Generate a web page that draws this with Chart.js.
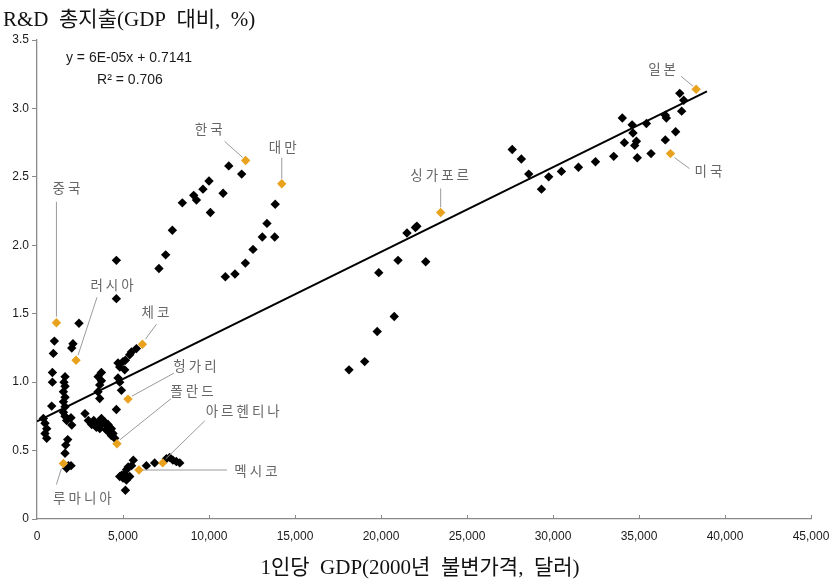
<!DOCTYPE html>
<html lang="ko">
<head>
<meta charset="utf-8">
<title>R&amp;D 총지출과 1인당 GDP</title>
<script src="https://cdn.jsdelivr.net/npm/chart.js@4/dist/chart.umd.min.js"></script>
<style>
  html, body { margin: 0; padding: 0; background: #ffffff; }
  #wrap { width: 834px; height: 582px; position: relative; }
</style>
</head>
<body>
<div id="wrap"><canvas id="chart" width="834" height="582"></canvas></div>
<script>
// Country-year observations: GDP per capita (2000 constant USD) and R&D spending (% of GDP)
const otherGdp = [
  1010, 950, 2090, 2020, 895, 895, 1630, 1570, 1630, 1535, 1630, 855, 1535, 1630, 1535, 1630,
  1725, 1975, 2020, 370, 465, 565, 465, 565, 1785, 1670, 1630, 1825, 1980, 1725, 2440,
  2790, 2985, 3180, 3300, 3450, 3550, 3650, 3745, 3840, 3940, 4030, 4130, 4230, 4140, 4035,
  4325, 4420, 4320, 4520,
  5780, 5490, 5390, 5140, 5000, 4710, 4810, 5100, 3745, 3550, 3745, 3645, 3550, 3645,
  4710, 4810, 4910, 4615,
  5600, 5500, 5300, 5200, 5100, 4920, 4810, 5000, 5200, 5390, 5140, 6360, 6840, 7520,
  7710, 7900, 8100, 8300,
  11150, 11900, 10000, 9650, 9110, 9270, 8450, 10820, 10080, 7870, 7480, 7090, 4615, 4615,
  13850, 13370, 13100, 13820, 12560, 12115, 11510, 10950,
  21510, 22000, 22090, 20990, 22600, 19870, 20770, 19780, 19050, 18140,
  27630, 28160, 28590, 29330, 29750, 30490, 31480, 32470, 33530, 34030, 34150, 34600,
  34650, 34850, 34750, 35430, 34900, 35700, 36530, 36590, 36530, 37130, 37370, 37600, 37480
];
const otherRd = [
  1.30, 1.21, 1.28, 1.25, 1.07, 1.00, 1.04, 1.00, 0.97, 0.93, 0.89, 0.825, 0.856, 0.82, 0.78, 0.75,
  0.72, 0.74, 0.686, 0.735, 0.70, 0.66, 0.625, 0.59, 0.58, 0.54, 0.48, 0.39, 0.39, 0.37, 1.43,
  0.77, 0.72, 0.69, 0.72, 0.67, 0.70, 0.66, 0.735, 0.70, 0.71, 0.685, 0.69, 0.67, 0.64, 0.65,
  0.66, 0.625, 0.61, 0.59,
  1.245, 1.22, 1.20, 1.16, 1.15, 1.14, 1.11, 1.09, 1.07, 1.04, 1.01, 0.98, 0.93, 0.88,
  1.03, 1.00, 0.94, 0.80,
  0.43, 0.39, 0.38, 0.36, 0.33, 0.32, 0.31, 0.30, 0.285, 0.31, 0.21, 0.39, 0.41, 0.44,
  0.45, 0.43, 0.42, 0.41,
  2.58, 2.52, 2.47, 2.41, 2.365, 2.33, 2.31, 2.38, 2.24, 2.11, 1.93, 1.83, 1.89, 1.61,
  2.30, 2.16, 2.06, 2.06, 1.97, 1.87, 1.79, 1.77,
  2.09, 2.13, 2.14, 1.89, 1.88, 1.80, 1.48, 1.37, 1.15, 1.09,
  2.70, 2.63, 2.52, 2.41, 2.50, 2.54, 2.57, 2.61, 2.65, 2.93, 2.75, 2.88,
  2.82, 2.76, 2.73, 2.89, 2.64, 2.67, 2.95, 2.93, 2.77, 2.83, 3.11, 3.06, 2.98
];

// Latest observation of the named countries
const namedCountries = ['중국', '러시아', '체코', '헝가리', '폴란드', '아르헨티나', '멕시코', '루마니아',
                        '한국', '대만', '싱가포르', '일본', '미국'];
const namedGdp = [1130, 2270, 6130, 5290, 4650, 7310, 5930, 1535, 12130, 14230, 23470, 38320, 36830];
const namedRd  = [1.434, 1.16, 1.277, 0.876, 0.55, 0.41, 0.358, 0.405, 2.62, 2.45, 2.24, 3.14, 2.67];

// Linear fit across all observations
const trendSlope = 6.19e-5;
const trendIntercept = 0.7141;
const trendRSquared = 0.706;
const trendXRange = [0, 38950];

// Axis ticks
const xTickValues = [0, 5000, 10000, 15000, 20000, 25000, 30000, 35000, 40000, 45000];
const yTickValues = [0, 0.5, 1.0, 1.5, 2.0, 2.5, 3.0, 3.5];

const yTitle = 'R&D  총지출(GDP  대비,  %)';
const xTitle = '1인당  GDP(2000년  불변가격,  달러)';

// Callout placement (pixel offsets from each marker): text centre, leader start, leader end
const calloutLayout = {
  '중국':     { text: [10, -135], from: [0, -6],  to: [0, -121] },
  '러시아':   { text: [36, -75],  from: [2, -5],  to: [21, -63] },
  '체코':     { text: [13, -32],  from: [3, -5],  to: [14, -20] },
  '헝가리':   { text: [67, -33],  from: [4, -3],  to: [46, -26] },
  '폴란드':   { text: [75, -53],  from: [3, -4],  to: [54, -45] },
  '아르헨티나': { text: [80, -52], from: [3, -4],  to: [42, -42] },
  '멕시코':   { text: [117, 1],   from: [4, 0],   to: [88, 0] },
  '루마니아': { text: [19, 34],   from: [-2, 5],  to: [-7, 21] },
  '한국':     { text: [-37, -32], from: [-3, -3], to: [-21, -19] },
  '대만':     { text: [1, -37],   from: [0, -5],  to: [0, -26] },
  '싱가포르': { text: [-1, -38],  from: [0, -5],  to: [0, -24] },
  '일본':     { text: [-34, -20], from: [-3, -3], to: [-15, -13] },
  '미국':     { text: [38, 17],   from: [4, 4],   to: [19, 15] }
};

const tickFont = '"Liberation Sans Narrow", "Liberation Sans", Arial, sans-serif';
const labelFont = '"Noto Sans CJK KR", "Noto Sans", sans-serif';
const titleFont = '"Liberation Serif", "Noto Sans CJK KR", serif';

function formatExp(v) {
  const [m, e] = v.toExponential(0).split('e');
  const n = parseInt(e, 10);
  return m + 'E' + (n < 0 ? '-' : '+') + String(Math.abs(n)).padStart(2, '0');
}

const otherPoints = otherGdp.map((x, i) => ({ x, y: otherRd[i] }));
const namedPoints = namedGdp.map((x, i) => ({ x, y: namedRd[i] }));
const trendPoints = trendXRange.map(x => ({ x, y: trendIntercept + trendSlope * x }));

const overlay = {
  id: 'overlay',
  afterDraw(chart) {
    const { ctx, scales: { x, y } } = chart;
    const base = y.getPixelForValue(0);
    ctx.save();

    // inward tick marks on the horizontal axis
    ctx.strokeStyle = '#8a8a8a';
    ctx.lineWidth = 1;
    xTickValues.forEach(v => {
      if (v === 0) return;
      const px = Math.round(x.getPixelForValue(v)) + 0.5;
      ctx.beginPath();
      ctx.moveTo(px, base);
      ctx.lineTo(px, base - 4);
      ctx.stroke();
    });

    // regression equation
    ctx.fillStyle = '#1a1a1a';
    ctx.font = '14px ' + tickFont;
    ctx.textAlign = 'center';
    ctx.textBaseline = 'middle';
    const eq = 'y = ' + formatExp(trendSlope) + 'x + ' + trendIntercept.toFixed(4);
    ctx.fillText(eq, 129, 58);
    ctx.fillText('R² = ' + trendRSquared.toFixed(3), 130, 80);

    // callouts for named countries
    const meta = chart.getDatasetMeta(1);
    ctx.strokeStyle = '#9a9a9a';
    ctx.lineWidth = 1;
    ctx.fillStyle = '#666';
    ctx.font = '13.5px ' + labelFont;
    ctx.letterSpacing = '3px';
    namedCountries.forEach((name, i) => {
      const el = meta.data[i];
      const lay = calloutLayout[name];
      if (!el || !lay) return;
      const px = el.x, py = el.y;
      ctx.beginPath();
      ctx.moveTo(px + lay.from[0], py + lay.from[1]);
      ctx.lineTo(px + lay.to[0], py + lay.to[1]);
      ctx.stroke();
      ctx.fillText(name, px + lay.text[0] + 1.5, py + lay.text[1]);
    });
    ctx.letterSpacing = '0px';

    // axis titles
    ctx.fillStyle = '#111';
    ctx.font = '21px ' + titleFont;
    ctx.textAlign = 'left';
    ctx.textBaseline = 'alphabetic';
    ctx.fillText(yTitle, 3, 26);
    ctx.textAlign = 'center';
    ctx.fillText(xTitle, 420, 574);
    ctx.restore();
  }
};

new Chart(document.getElementById('chart'), {
  type: 'scatter',
  data: {
    datasets: [
      {
        label: '기타 국가',
        data: otherPoints,
        pointStyle: 'rectRot',
        pointRadius: 4.7,
        backgroundColor: '#000',
        borderColor: '#000',
        borderWidth: 0,
        order: 2
      },
      {
        label: '주요 국가',
        data: namedPoints,
        pointStyle: 'rectRot',
        pointRadius: 4.7,
        backgroundColor: '#E9A21E',
        borderColor: '#E9A21E',
        borderWidth: 0,
        order: 1
      },
      {
        type: 'line',
        label: '추세선',
        data: trendPoints,
        borderColor: '#000',
        borderWidth: 2,
        pointRadius: 0,
        fill: false,
        tension: 0,
        order: 3
      }
    ]
  },
  options: {
    responsive: false,
    animation: false,
    devicePixelRatio: 1,
    layout: { padding: { top: 40, right: 23, bottom: 0, left: 0 } },
    plugins: { legend: { display: false }, tooltip: { enabled: false }, title: { display: false } },
    scales: {
      x: {
        type: 'linear',
        min: 0,
        max: 45000,
        afterFit(scale) { scale.height = 63; scale.paddingRight = 0; scale.paddingLeft = 0; },
        afterBuildTicks(scale) { scale.ticks = xTickValues.map(v => ({ value: v })); },
        border: { display: true, color: '#8a8a8a', width: 1.3 },
        grid: { display: true, drawOnChartArea: false, drawTicks: false },
        ticks: {
          autoSkip: false,
          maxRotation: 0,
          padding: 10,
          color: '#1a1a1a',
          font: { family: tickFont, size: 12 },
          callback: v => v.toLocaleString('en-US')
        }
      },
      y: {
        min: 0,
        max: 3.5,
        afterFit(scale) { scale.width = 37; scale.paddingTop = 0; scale.paddingBottom = 0; },
        afterBuildTicks(scale) { scale.ticks = yTickValues.map(v => ({ value: v })); },
        border: { display: true, color: '#8a8a8a', width: 1.3 },
        grid: { display: true, drawOnChartArea: false, drawTicks: true, tickLength: 5, color: '#8a8a8a' },
        ticks: {
          padding: 3,
          color: '#1a1a1a',
          font: { family: tickFont, size: 12 },
          callback: v => (v === 0 ? '0' : v.toFixed(1))
        }
      }
    }
  },
  plugins: [overlay]
});
</script>
</body>
</html>
